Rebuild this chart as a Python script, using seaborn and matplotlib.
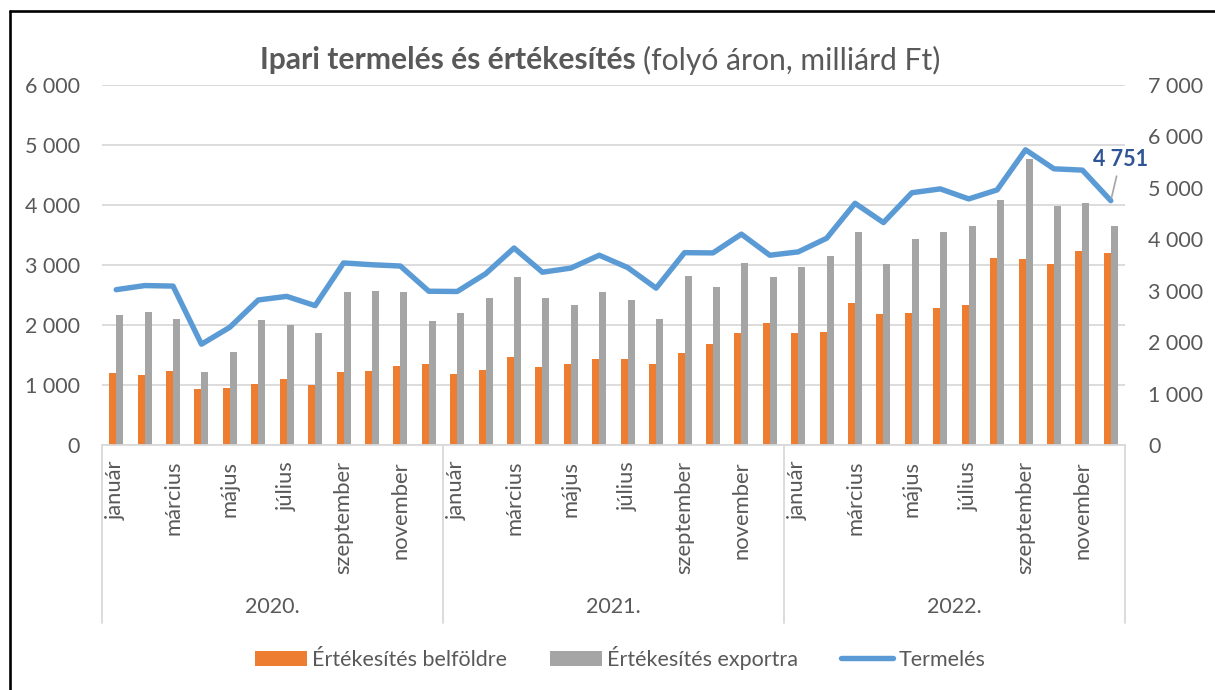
import numpy as np
import pandas as pd
import matplotlib
matplotlib.use("Agg")
import matplotlib.pyplot as plt
import matplotlib.transforms as mtransforms
from matplotlib.lines import Line2D
from matplotlib.patches import Patch
import seaborn as sns

# ---------------- data ----------------
years = ["2020.", "2021.", "2022."]
months = ["január", "február", "március", "április", "május", "június",
          "július", "augusztus", "szeptember", "október", "november", "december"]

belfold_2020 = [1200, 1172, 1233, 933, 956, 1017, 1100, 1000, 1217, 1239, 1311, 1350]
belfold_2021 = [1178, 1256, 1461, 1294, 1344, 1433, 1433, 1350, 1533, 1689, 1861, 2028]
belfold_2022 = [1867, 1883, 2372, 2189, 2206, 2278, 2333, 3117, 3106, 3017, 3233, 3194]

export_2020 = [2161, 2211, 2100, 1211, 1550, 2078, 2000, 1861, 2550, 2561, 2544, 2067]
export_2021 = [2206, 2450, 2794, 2450, 2339, 2556, 2411, 2094, 2811, 2633, 3028, 2806]
export_2022 = [2961, 3144, 3550, 3022, 3428, 3544, 3644, 4083, 4761, 3989, 4028, 3644]

termeles_2020 = [3020, 3100, 3090, 1960, 2290, 2820, 2890, 2710, 3540, 3505, 3480, 2990]
termeles_2021 = [2985, 3330, 3830, 3360, 3440, 3690, 3450, 3050, 3740, 3735, 4100, 3690]
termeles_2022 = [3755, 4020, 4700, 4325, 4905, 4980, 4785, 4960, 5740, 5370, 5345, 4751]

series_names = ["Értékesítés belföldre", "Értékesítés exportra", "Termelés"]
last_label = "4 751"

belfold = belfold_2020 + belfold_2021 + belfold_2022
export = export_2020 + export_2021 + export_2022
termeles = termeles_2020 + termeles_2021 + termeles_2022

# ---------------- style ----------------
ORANGE = "#ED7D31"
GRAY = "#A5A5A5"
BLUE = "#5B9BD5"
TXT = "#595959"
GRID = "#D9D9D9"
FS = 15.5

sns.set_theme(style="white")
plt.rcParams["font.family"] = ["Lato", "DejaVu Sans"]

W, H = 1215, 690
fig = plt.figure(figsize=(W / 100, H / 100), dpi=100)
ax = fig.add_axes([102 / W, 1 - 445 / H, (1125 - 102) / W, 360 / H])

n = len(belfold)
idx = np.arange(n)
df = pd.DataFrame({
    "idx": np.concatenate([idx, idx]),
    "series": [series_names[0]] * n + [series_names[1]] * n,
    "value": belfold + export,
})
sns.barplot(data=df, x="idx", y="value", hue="series", hue_order=series_names[:2],
            palette=[ORANGE, GRAY], width=0.49, saturation=1, errorbar=None,
            linewidth=0, legend=False, ax=ax)

ax.set_xlim(-0.5, n - 0.5)
ax.set_ylim(0, 6000)
ax.set_yticks(range(0, 6001, 1000))
ax.set_yticklabels([f"{v:,}".replace(",", " ") for v in range(0, 6001, 1000)])
ax.set_xticks(idx[::2])
ax.set_xticklabels([months[i % 12] for i in idx[::2]], rotation=90)
ax.set_xlabel("")
ax.set_ylabel("")
ax.tick_params(axis="x", length=0, pad=11.5, labelsize=FS + 0.3, labelcolor=TXT)
ax.tick_params(axis="y", length=0, pad=15.8, labelsize=FS, labelcolor=TXT)
ax.set_axisbelow(True)
ax.yaxis.grid(True, color=GRID, lw=1.3)
ax.xaxis.grid(False)
for s in ["top", "left", "right"]:
    ax.spines[s].set_visible(False)
ax.spines["bottom"].set_color(GRID)
ax.spines["bottom"].set_linewidth(1.3)

# line on secondary axis
ax2 = ax.twinx()
sns.lineplot(x=idx, y=termeles, ax=ax2, color=BLUE, linewidth=3.9,
             solid_joinstyle="round", solid_capstyle="round")
ax2.set_xlim(-0.5, n - 0.5)
ax2.set_ylim(0, 7000)
ax2.set_yticks(range(0, 7001, 1000))
ax2.set_yticklabels([f"{v:,}".replace(",", " ") for v in range(0, 7001, 1000)])
ax2.set_ylabel("")
ax2.tick_params(axis="y", length=0, pad=16.5, labelsize=FS, labelcolor=TXT)
for s in ax2.spines.values():
    s.set_visible(False)
ax2.grid(False)

ax2.annotate(last_label, xy=(n - 1, termeles[-1]), xytext=(10, 41),
             textcoords="offset pixels", ha="center", va="center",
             fontsize=FS, fontweight="bold", color="#2F5597",
             arrowprops=dict(arrowstyle="-", color=GRAY, lw=1.2,
                             shrinkA=2, shrinkB=2, relpos=(0.45, 0.0)))

# multi-level category axis: year separators and labels
trans = mtransforms.blended_transform_factory(ax.transData, ax.transAxes)
for k in range(len(years) + 1):
    xv = k * 12 - 0.5
    ax.add_line(Line2D([xv, xv], [0, -0.494], transform=trans, color=GRID,
                       lw=1.3, clip_on=False))
for k, y in enumerate(years):
    ax.text(k * 12 + 5.5, -0.45, y, transform=trans, ha="center", va="center",
            fontsize=FS, color=TXT)

# legend
handles = [Patch(facecolor=ORANGE, edgecolor="none"),
           Patch(facecolor=GRAY, edgecolor="none"),
           Line2D([0], [0], color=BLUE, lw=3.9, solid_capstyle="round")]
fig.legend(handles, series_names, loc="center", bbox_to_anchor=(620 / W, 1 - 658 / H),
           ncol=3, frameon=False, fontsize=FS, handlelength=2.4, handletextpad=0.25,
           columnspacing=2.0, labelcolor=TXT)

# title: bold part + normal part
fig.canvas.draw()
r = fig.canvas.get_renderer()
TFS = 21.6
t1 = fig.text(0, 1 - 60 / H, "Ipari termelés és értékesítés", fontsize=TFS,
              fontweight="bold", color=TXT, ha="left", va="center")
t2 = fig.text(0, 1 - 60 / H, "(folyó áron, milliárd Ft)", fontsize=TFS,
              color=TXT, ha="left", va="center")
w1 = t1.get_window_extent(r).width
w2 = t2.get_window_extent(r).width
gap = 7
x0 = 600 - (w1 + gap + w2) / 2
t1.set_x(x0 / W)
t2.set_x((x0 + w1 + gap) / W)

# chart border (left and top edges visible)
fig.add_artist(Line2D([9.7 / W, 9.7 / W], [1 - 11.3 / H, -0.1], transform=fig.transFigure,
                      color="black", lw=1.9))
fig.add_artist(Line2D([9.7 / W, 1.1], [1 - 11.3 / H, 1 - 11.3 / H], transform=fig.transFigure,
                      color="black", lw=1.9))

fig.savefig("out.png", dpi=100)
